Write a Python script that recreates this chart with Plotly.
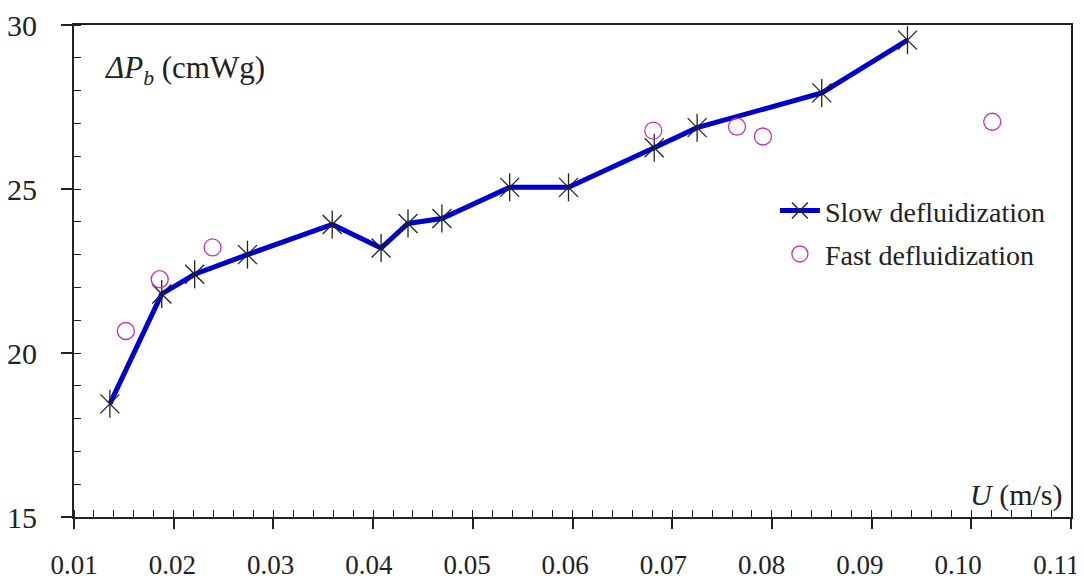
import plotly.graph_objects as go

# Slow defluidization (line + asterisk markers)
slow_u = [0.0136, 0.0188, 0.0221, 0.0274, 0.0359, 0.0408, 0.0435, 0.0469, 0.0537, 0.0596, 0.0682, 0.0725, 0.0850, 0.0936]
slow_dp = [18.45, 21.8, 22.4, 23.0, 23.92, 23.2, 23.95, 24.1, 25.05, 25.05, 26.26, 26.87, 27.93, 29.54]

# Fast defluidization (open circles)
fast_u = [0.0152, 0.0186, 0.0239, 0.0681, 0.0765, 0.0791, 0.1021]
fast_dp = [20.67, 22.25, 23.22, 26.78, 26.9, 26.6, 27.05]

x_ticks = [0.01, 0.02, 0.03, 0.04, 0.05, 0.06, 0.07, 0.08, 0.09, 0.10, 0.11]
x_ticklabels = ["0.01", "0.02", "0.03", "0.04", "0.05", "0.06", "0.07", "0.08", "0.09", "0.10", "0.11"]
y_ticks = [15, 20, 25, 30]

FONT = "Liberation Serif"
INK = "#222222"

fig = go.Figure()

fig.add_trace(go.Scatter(
    x=slow_u, y=slow_dp, mode="lines+markers", name="Slow defluidization",
    legendgroup="slow",
    line=dict(color="#0000cc", width=5),
    marker=dict(symbol="x-thin-open", size=19, color=INK,
                line=dict(color=INK, width=1.3)),
))
fig.add_trace(go.Scatter(
    x=slow_u, y=slow_dp, mode="markers", showlegend=False, hoverinfo="skip",
    legendgroup="slow",
    marker=dict(symbol="line-ns-open", size=20, color=INK,
                line=dict(color=INK, width=1.3)),
))
fig.add_trace(go.Scatter(
    x=fast_u, y=fast_dp, mode="markers", name="Fast defluidization",
    legendgroup="fast",
    marker=dict(symbol="circle-open", size=17, color="#c030c0",
                line=dict(color="#c030c0", width=1.3)),
))
# empty trace so the tick-label axis (x2) is drawn
fig.add_trace(go.Scatter(x=[], y=[], xaxis="x2", showlegend=False, hoverinfo="skip"))

fig.update_layout(
    width=1076, height=575,
    margin=dict(l=66, r=13, t=17, b=66, autoexpand=False),
    paper_bgcolor="white", plot_bgcolor="white",
    font=dict(family=FONT, size=27, color=INK),
    showlegend=True,
    legend=dict(x=0.703, y=0.673, xanchor="left", yanchor="top",
                bgcolor="rgba(0,0,0,0)", font=dict(family=FONT, size=28, color=INK),
                traceorder="grouped", tracegroupgap=4, itemwidth=40),
    xaxis=dict(range=[0.01, 0.11], tickvals=x_ticks, showticklabels=False,
               automargin=False, showgrid=False, zeroline=False,
               showline=True, linecolor=INK, linewidth=2, mirror=True,
               ticks="outside", ticklen=10, tickwidth=1.5, tickcolor=INK,
               minor=dict(dtick=0.002, ticks="inside", ticklen=7, tickwidth=1.2, tickcolor=INK, showgrid=False)),
    xaxis2=dict(overlaying="x", anchor="y", side="bottom",
                range=[0.00998, 0.1115], tickvals=x_ticks, ticktext=x_ticklabels,
                automargin=False, showgrid=False, zeroline=False, showline=False,
                ticks="", ticklabelstandoff=29, ticklabeloverflow="allow",
                tickfont=dict(family=FONT, size=27, color=INK)),
    yaxis=dict(range=[15, 30], tickvals=y_ticks,
               automargin=False, showgrid=False, zeroline=False,
               showline=True, linecolor=INK, linewidth=2, mirror=True,
               ticks="outside", ticklen=11, tickwidth=1.5, tickcolor=INK,
               ticklabelstandoff=18, ticklabeloverflow="allow",
               minor=dict(dtick=1, ticks="inside", ticklen=7, tickwidth=1.2, tickcolor=INK, showgrid=False),
               tickfont=dict(family=FONT, size=30, color=INK)),
    annotations=[
        dict(text="<i>ΔP<sub>b</sub></i> (cmWg)", xref="paper", yref="paper",
             x=0.028, y=0.909, xanchor="left", yanchor="middle", showarrow=False,
             font=dict(family=FONT, size=31, color=INK)),
        dict(text="<i>U</i> (m/s)", xref="paper", yref="paper",
             x=0.994, y=0.045, xanchor="right", yanchor="middle", showarrow=False,
             font=dict(family=FONT, size=30, color=INK)),
    ],
)

fig.write_html("out.html")
